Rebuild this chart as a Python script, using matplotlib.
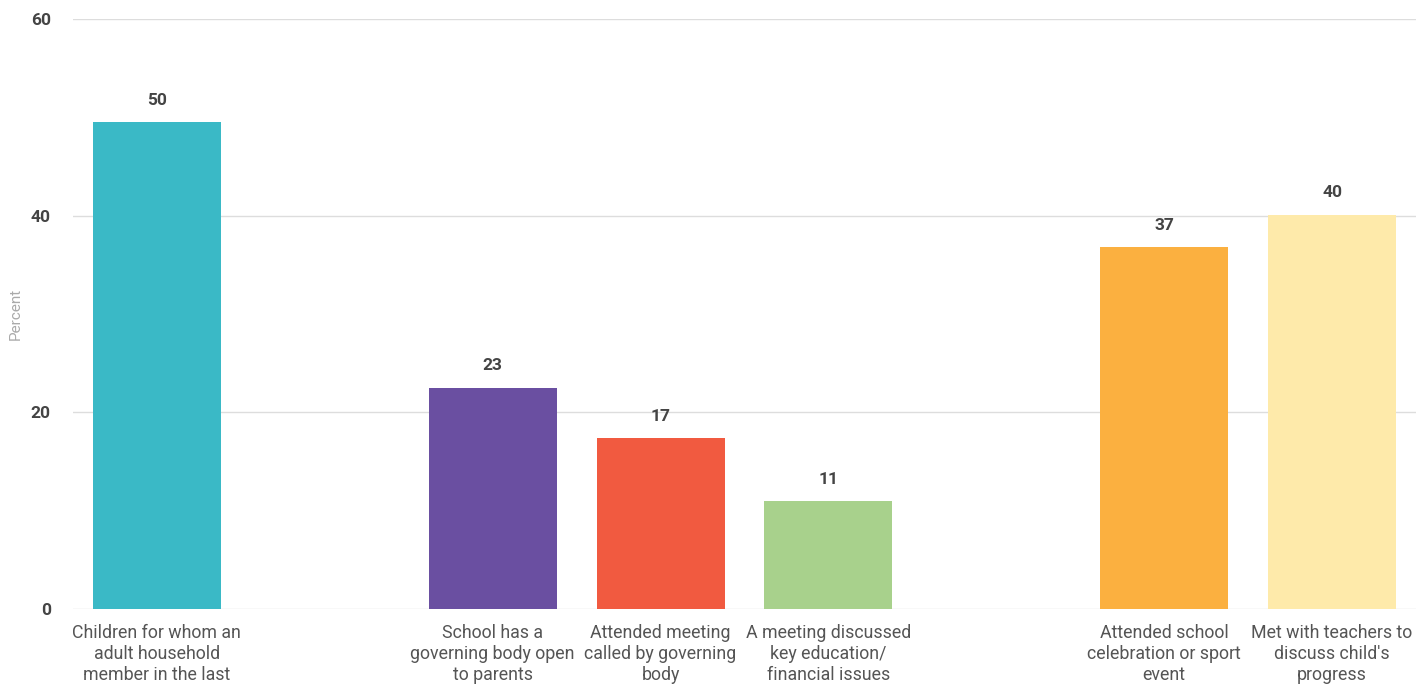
import matplotlib
matplotlib.use("Agg")
import matplotlib.pyplot as plt
import numpy as np

categories = [
    "Children for whom an\nadult household\nmember in the last",
    "",
    "School has a\ngoverning body open\nto parents",
    "Attended meeting\ncalled by governing\nbody",
    "A meeting discussed\nkey education/\nfinancial issues",
    "",
    "Attended school\ncelebration or sport\nevent",
    "Met with teachers to\ndiscuss child's\nprogress",
]
values = [49.5, None, 22.5, 17.4, 11.0, None, 36.8, 40.1]
value_labels = ["50", "", "23", "17", "11", "", "37", "40"]
colors = ["#3AB9C6", None, "#6A4FA1", "#F15A40", "#A8D18C", None, "#FBB040", "#FEEAAA"]
yticks = [0, 20, 40, 60]

plt.rcParams['font.family'] = ['Roboto', 'DejaVu Sans']

fig = plt.figure(figsize=(14.16, 6.85), dpi=100)
ax = fig.add_axes([73/1416, 76/685, 1343/1416, 590/685])

x = np.arange(len(categories))
for i, (v, c, lab) in enumerate(zip(values, colors, value_labels)):
    if v is None:
        continue
    ax.bar(x[i], v, width=0.762, color=c, zorder=2)
    ax.text(x[i], v + 1.45, lab, ha='center', va='bottom', fontsize=12.5,
            fontweight='bold', color='#444444')

ax.set_xlim(-0.5, len(categories) - 0.5)
ax.set_ylim(0, 60)
ax.set_yticks(yticks)
ax.set_yticklabels([str(t) for t in yticks], fontsize=12.5, fontweight='bold', color='#444444')
ax.grid(axis='y', color='#DDDDDD', linewidth=1, zorder=0)
ax.set_axisbelow(True)
ax.set_xticks(x)
ax.set_xticklabels(categories, fontsize=12.8, color='#555555', linespacing=1.22, va='top')
ax.tick_params(axis='both', length=0)
ax.tick_params(axis='x', pad=11)
ax.tick_params(axis='y', pad=16)
for s in ax.spines.values():
    s.set_visible(False)
ax.set_ylabel("Percent", fontsize=11, color='#AAAAAA')
ax.yaxis.set_label_coords(-50/1343, 0.5)

fig.savefig("out.png", dpi=100)
